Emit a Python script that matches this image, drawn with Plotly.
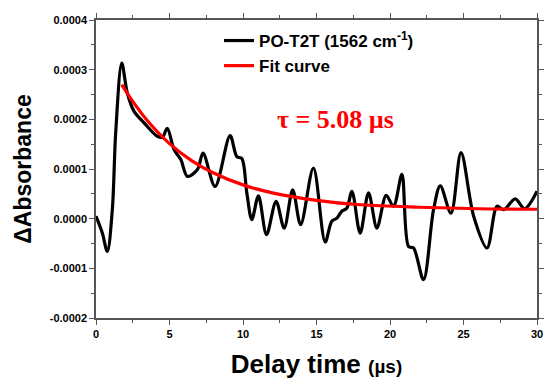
import plotly.graph_objects as go

# Measured transient (x in µs, y in ΔA)
t_data = [0.00, 0.43, 0.77, 1.11, 1.34, 1.75, 2.13, 2.59, 3.27, 4.17, 4.52, 4.85, 5.31,
          5.77, 6.22, 6.90, 7.28, 8.10, 9.12, 9.58, 9.92, 10.26, 10.60, 11.05, 11.60,
          12.25, 12.80, 13.38, 13.92, 14.79, 15.59, 16.04, 16.39, 16.72, 17.06, 17.41,
          17.97, 18.54, 19.11, 19.74, 20.24, 20.81, 21.26, 21.60, 22.28, 22.96, 23.42,
          24.15, 24.83, 25.69, 26.60, 27.28, 27.73, 28.52, 29.16, 30.00]
a_data = [0.05, -0.29, -0.66, 0.18, 1.73, 3.13, 2.53, 2.16, 1.93, 1.66, 1.64, 1.82, 1.39,
          1.19, 0.85, 0.99, 1.32, 0.65, 1.67, 1.25, 1.21, 0.52, -0.02, 0.46, -0.32,
          0.35, -0.19, 0.58, -0.12, 1.02, -0.47, -0.05, 0.01, 0.15, 0.21, 0.55,
          -0.29, 0.52, -0.19, 0.47, 0.25, 0.89, -0.56, -0.59, -1.23, 0.18, 0.66,
          0.11, 1.33, 0.05, -0.59, 0.25, 0.18, 0.40, 0.20, 0.55]
a_data = [v * 1e-4 for v in a_data]

# Fit curve
t_fit = [1.75, 2.5, 3.5, 5.0, 6.5, 8.0, 10.0, 12.0, 15.0, 18.0, 22.0, 26.0, 30.0]
a_fit = [2.70, 2.36, 1.97, 1.51, 1.17, 0.92, 0.68, 0.52, 0.37, 0.28, 0.23, 0.20, 0.19]
a_fit = [v * 1e-4 for v in a_fit]

y_ticks = [-0.0002, -0.0001, 0.0, 0.0001, 0.0002, 0.0003, 0.0004]
y_tick_labels = ["-0.0002", "-0.0001", "0.0000", "0.0001", "0.0002", "0.0003", "0.0004"]
x_ticks = [0, 5, 10, 15, 20, 25, 30]

FONT = "Arial, 'Liberation Sans', sans-serif"

fig = go.Figure()
fig.add_trace(go.Scatter(x=t_data, y=a_data, mode="lines",
                         line=dict(color="black", width=3.2, shape="spline", smoothing=0.9),
                         name="PO-T2T (1562 cm<sup>-1</sup>)"))
fig.add_trace(go.Scatter(x=t_fit, y=a_fit, mode="lines",
                         line=dict(color="#ff0000", width=3.2, shape="spline", smoothing=1.0),
                         name="Fit curve"))

axis_common = dict(showline=True, linecolor="#555555", linewidth=1.5, mirror="allticks",
                   ticks="outside", ticklen=5, tickwidth=1, tickcolor="#555555",
                   showgrid=False, zeroline=False, automargin=True,
                   tickfont=dict(family=FONT, size=11, color="black", weight="bold"))

fig.update_xaxes(range=[0, 30], tickvals=x_ticks,
                 minor=dict(ticks="outside", ticklen=3, dtick=2.5, tick0=0, tickcolor="#555555"),
                 title=dict(text="<b>Delay time <span style='font-size:19px'>(µs)</span></b>",
                            font=dict(family=FONT, size=26, color="black"), standoff=18),
                 **axis_common)
fig.update_yaxes(range=[-0.0002, 0.0004], tickvals=y_ticks, ticktext=y_tick_labels,
                 minor=dict(ticks="outside", ticklen=3, dtick=0.00005, tick0=0, tickcolor="#555555"),
                 title=dict(text="<b>ΔAbsorbance</b>",
                            font=dict(family=FONT, size=23, color="black"), standoff=12),
                 **axis_common)

fig.add_annotation(x=16.3, y=0.000199, xref="x", yref="y", showarrow=False,
                   text="<b>τ = 5.08 µs</b>",
                   font=dict(family="'Times New Roman', 'Liberation Serif', serif", size=26, color="#ff0000"))

fig.update_layout(
    width=544, height=379,
    margin=dict(l=96, r=7, t=20, b=61, autoexpand=False),
    paper_bgcolor="white", plot_bgcolor="white",
    showlegend=True,
    legend=dict(x=0.279, y=0.99, xanchor="left", yanchor="top",
                bgcolor="rgba(0,0,0,0)", tracegroupgap=0, itemwidth=30,
                font=dict(family=FONT, size=17, color="black", weight="bold")),
)

fig.write_html("out.html")
